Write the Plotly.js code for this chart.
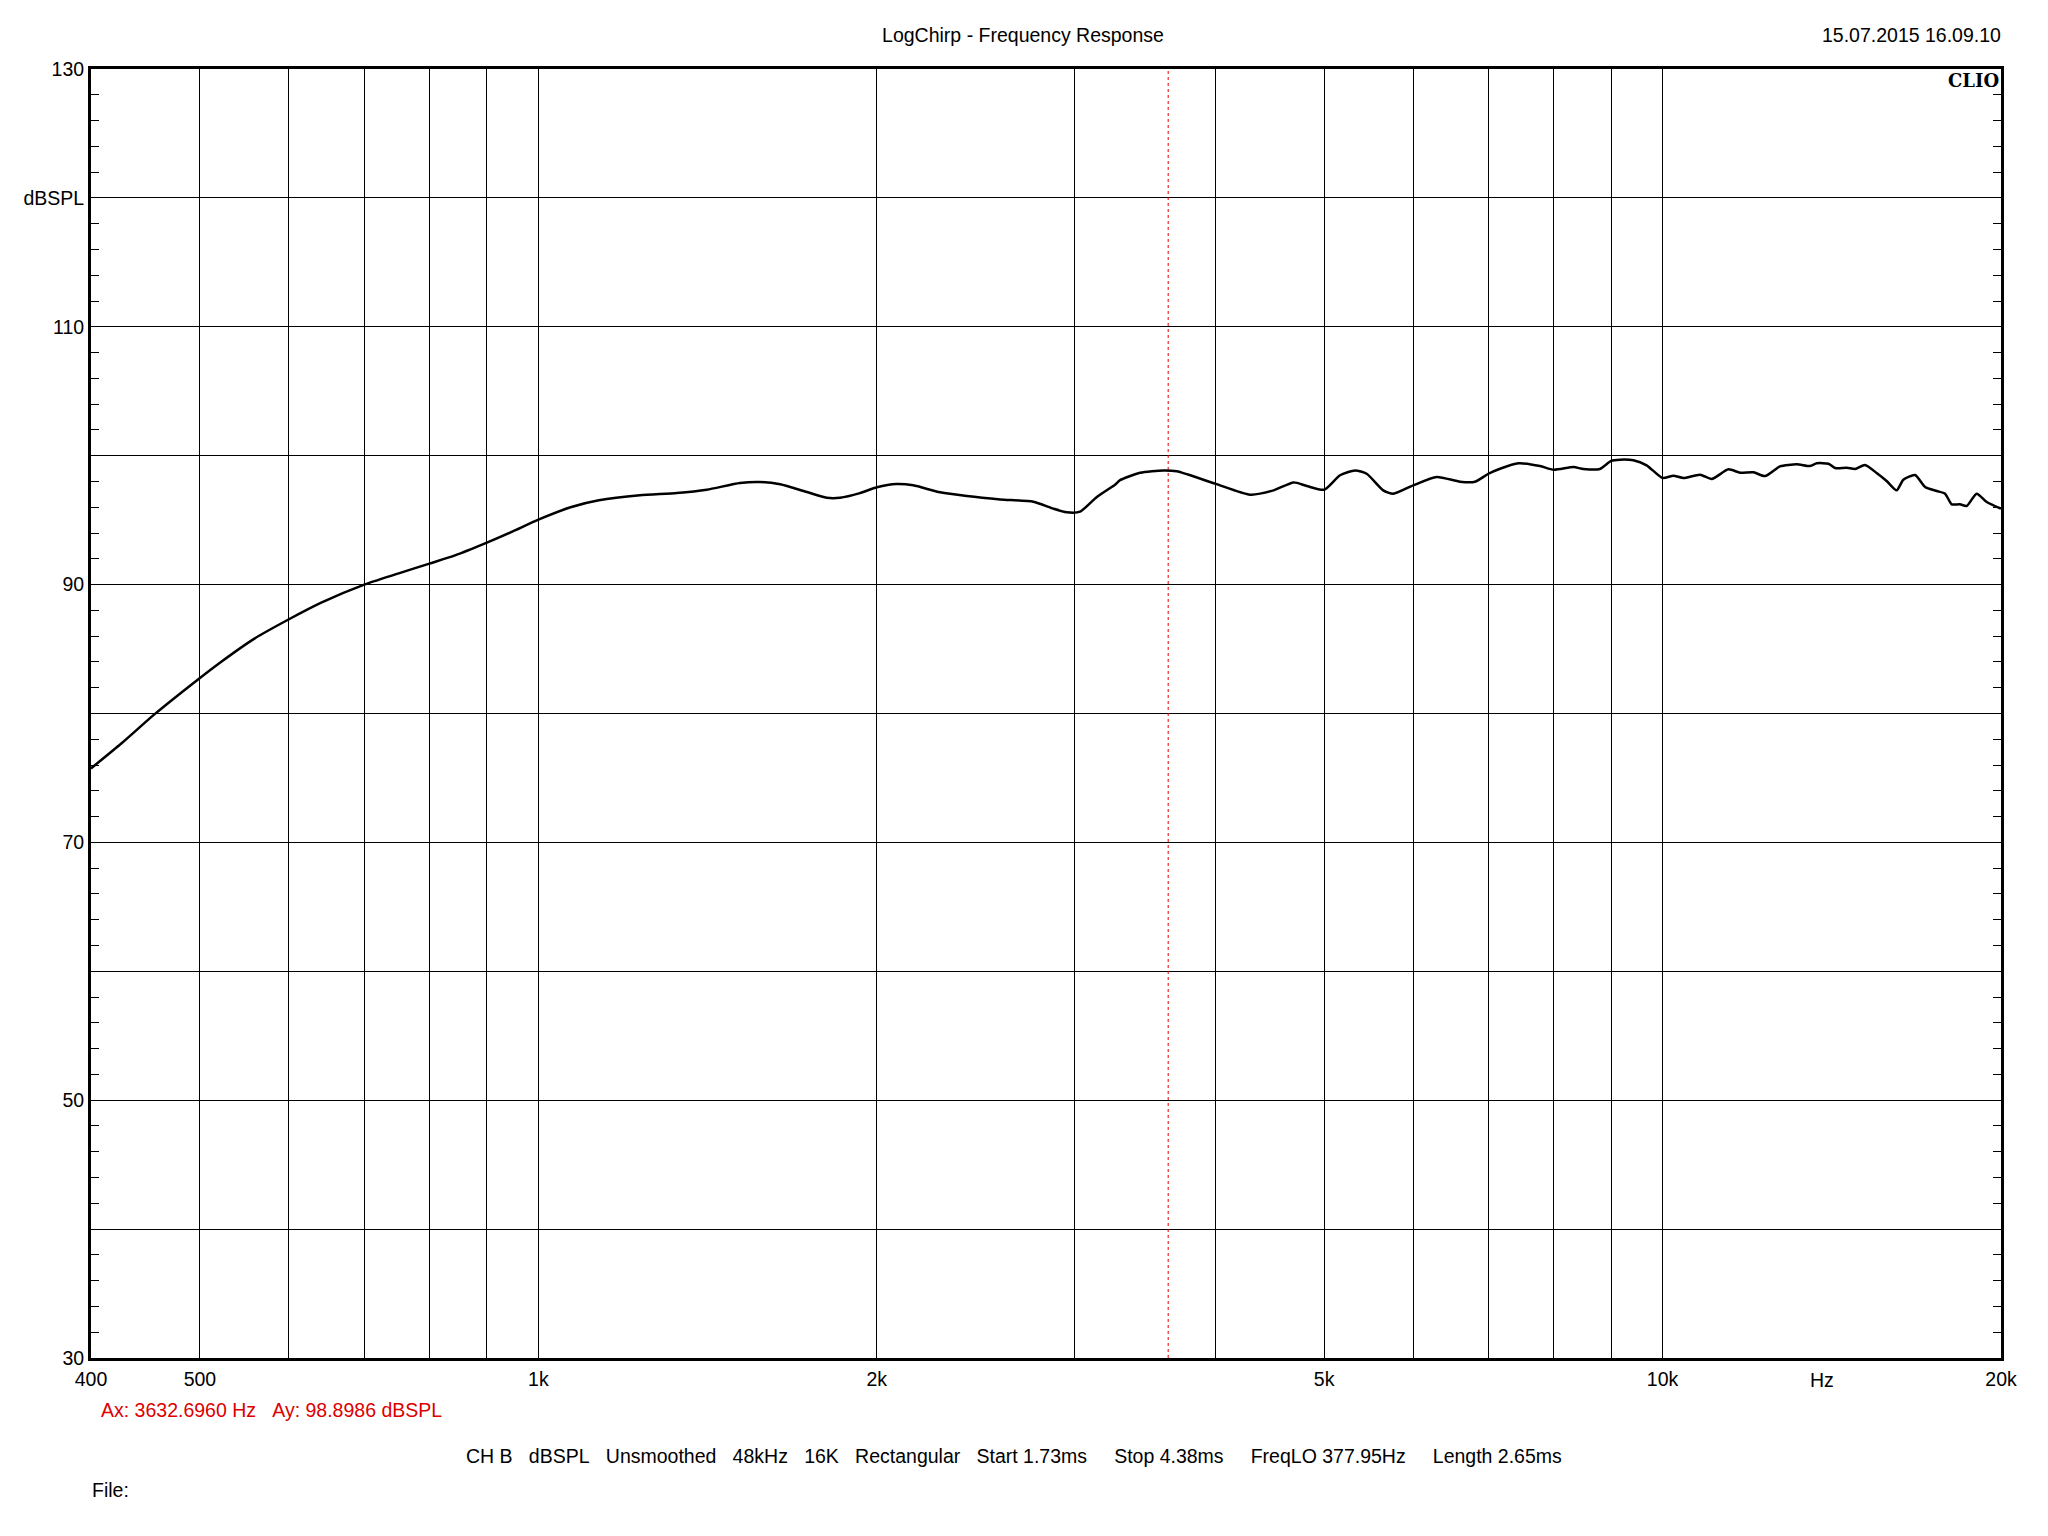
<!DOCTYPE html>
<html><head><meta charset="utf-8">
<script src="https://cdn.plot.ly/plotly-3.0.1.min.js"></script>
<style>html,body{margin:0;padding:0;background:#fff}#chart{width:2048px;height:1536px}</style>
</head><body><div id="chart"></div>
<script>
const freqHz = [400,425.6,455.7,500,522,559,600,641,700,750,800,843,900,953,1000,1070,1132,1231,1328,1412,1511,1575,1641,1733,1805,1855,1932,2000,2083,2155,2277,2405,2575,2756,2871,2951,3033,3139,3258,3292,3430,3597,3697,4000,4296,4508,4696,4825,5000,5165,5327,5455,5643,5760,6000,6296,6605,6809,7000,7168,7444,7780,8000,8331,8503,8796,9000,9168,9419,9679,10000,10224,10435,10797,11060,11443,11721,12048,12337,12719,13166,13527,13713,14045,14239,14587,14836,15138,15502,15823,16152,16374,16772,17119,17534,17836,18078,18387,18643,19028,19423,20000];
const splDb = [75.74,77.67,79.95,82.76,84.0,85.81,87.31,88.6,90.0,90.85,91.63,92.27,93.26,94.2,95.04,96.02,96.54,96.93,97.1,97.36,97.88,97.96,97.78,97.18,96.74,96.74,97.1,97.55,97.8,97.7,97.16,96.87,96.61,96.43,95.89,95.61,95.66,96.8,97.75,98.1,98.68,98.86,98.79,97.83,96.98,97.31,97.93,97.65,97.36,98.48,98.86,98.6,97.31,97.05,97.7,98.35,97.98,97.98,98.6,98.99,99.41,99.2,98.91,99.12,98.97,98.97,99.6,99.69,99.64,99.25,98.27,98.45,98.27,98.53,98.19,98.94,98.68,98.71,98.42,99.17,99.33,99.2,99.41,99.38,99.04,99.07,98.97,99.28,98.66,98.04,97.31,98.14,98.5,97.57,97.26,97.05,96.23,96.23,96.1,97.05,96.41,95.89];
const cursorHz = 3632.696;
const cursorDb = 98.8986;
const xTickVals = [400,500,600,700,800,900,1000,2000,3000,4000,5000,6000,7000,8000,9000,10000,20000];
const xTickText = ['400','500','','','','','1k','2k','','','5k','','','','','10k','20k'];
const yTickVals = [30,40,50,60,70,80,90,100,110,120,130];
const yTickText = ['30','','50','','70','','90','','110','dBSPL','130'];
const yRange = [30,130];
const xRange = [400,20000];
const titleText = 'LogChirp - Frequency Response';
const dateText = '15.07.2015 16.09.10';
const brandText = 'CLIO';
const unitText = 'Hz';
const cursorText = 'Ax: ' + cursorHz.toFixed(4) + ' Hz\u00A0\u00A0\u00A0Ay: ' + cursorDb.toFixed(4) + ' dBSPL';
const infoParts = ['CH B','dBSPL','Unsmoothed','48kHz','16K','Rectangular','Start 1.73ms','Stop 4.38ms','FreqLO 377.95Hz','Length 2.65ms'];
const fileText = 'File:';

const S3 = '\u00A0\u00A0\u00A0';
const S4 = '\u00A0\u00A0\u00A0\u00A0\u00A0';
const infoText = infoParts.slice(0,7).join(S3) + S4 + infoParts.slice(7).join(S4);

const FONT = '"Liberation Sans", Arial, sans-serif';
const L = 91, R = 2001, T = 69, B = 1358;
const py = (ypix) => (B - ypix) / (B - T);
const px = (xpix) => (xpix - L) / (R - L);

const traces = [
  {x:[cursorHz,cursorHz], y:yRange, type:'scatter', mode:'lines', line:{color:'rgb(220,0,0)', width:1, dash:'3px,3px'}, hoverinfo:'skip'},
  {x:freqHz, y:splDb, type:'scatter', mode:'lines', line:{color:'#000', width:2.5, shape:'spline', smoothing:0.6}, hoverinfo:'skip'}
];

const layout = {
  width:2048, height:1536,
  margin:{l:L, r:2048-R, t:T, b:1536-B, pad:0},
  paper_bgcolor:'#fff', plot_bgcolor:'#fff',
  showlegend:false,
  font:{family:FONT, size:19.5, color:'#000'},
  title:{text:titleText, xref:'container', x:1023/2048, xanchor:'center', yref:'container', y:1-35/1536, yanchor:'middle', font:{family:FONT, size:19.5, color:'#000'}},
  xaxis:{type:'log', range:[Math.log10(xRange[0]), Math.log10(xRange[1])], tickmode:'array', tickvals:xTickVals, ticktext:xTickText,
    showgrid:true, gridcolor:'#000', gridwidth:1, showline:true, linecolor:'#000', linewidth:3, mirror:true,
    ticks:'', ticklabelstandoff:2, zeroline:false, fixedrange:true, tickfont:{family:FONT, size:19.5, color:'#000'}},
  yaxis:{range:yRange, tickmode:'array', tickvals:yTickVals, ticktext:yTickText,
    showgrid:true, gridcolor:'#000', gridwidth:1, showline:true, linecolor:'#000', linewidth:3, mirror:'allticks',
    ticks:'inside', ticklen:8, tickcolor:'#000', tickwidth:1,
    minor:{tickmode:'linear', tick0:30, dtick:2, ticks:'inside', ticklen:8, tickcolor:'#000', tickwidth:1, showgrid:false},
    zeroline:false, fixedrange:true, tickfont:{family:FONT, size:19.5, color:'#000'}},
  annotations:[
    {text:dateText, xref:'paper', yref:'paper', x:px(2003), y:py(35), xanchor:'right', yanchor:'middle', showarrow:false, font:{family:FONT, size:19.5, color:'#000'}},
    {text:'<b>'+brandText+'</b>', xref:'paper', yref:'paper', x:px(2001), y:py(80), xanchor:'right', yanchor:'middle', showarrow:false, font:{family:'"DejaVu Serif", serif', size:18, color:'#000'}},
    {text:unitText, xref:'paper', yref:'paper', x:px(1821.7), y:py(1380), xanchor:'center', yanchor:'middle', showarrow:false, font:{family:FONT, size:19.5, color:'#000'}},
    {text:cursorText, xref:'paper', yref:'paper', x:px(99), y:py(1410), xanchor:'left', yanchor:'middle', showarrow:false, font:{family:FONT, size:19.5, color:'rgb(220,0,0)'}},
    {text:infoText, xref:'paper', yref:'paper', x:px(1014), y:py(1456), xanchor:'center', yanchor:'middle', showarrow:false, font:{family:FONT, size:19.5, color:'#000'}},
    {text:fileText, xref:'paper', yref:'paper', x:px(90), y:py(1490), xanchor:'left', yanchor:'middle', showarrow:false, font:{family:FONT, size:19.5, color:'#000'}}
  ]
};

Plotly.newPlot('chart', traces, layout, {staticPlot:true, displayModeBar:false});
</script>
</body></html>
